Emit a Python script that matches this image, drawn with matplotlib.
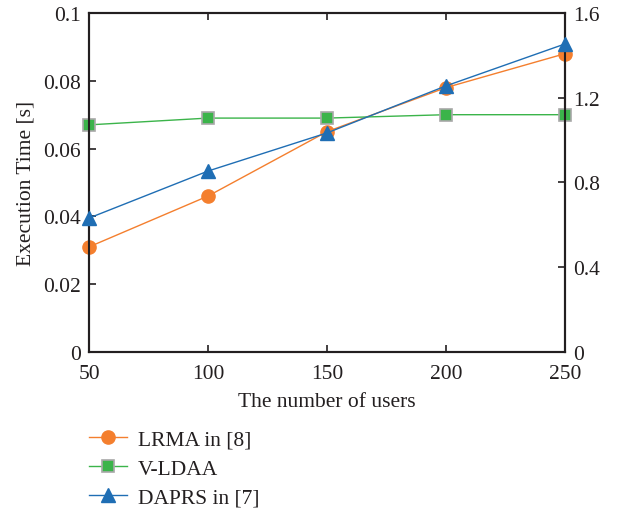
import matplotlib.pyplot as plt

users = [50, 100, 150, 200, 250]
lrma = [0.031, 0.046, 0.065, 0.078, 0.088]
vldaa = [0.067, 0.069, 0.069, 0.070, 0.070]
daprs = [0.632, 0.854, 1.034, 1.256, 1.454]  # right axis

plt.rcParams['font.family'] = 'Liberation Serif'
plt.rcParams['font.size'] = 15.5

fig = plt.figure(figsize=(6.21, 5.10), dpi=100)
ax = fig.add_axes([89 / 621, 1 - 353 / 510, 476 / 621, 339 / 510])
ax2 = ax.twinx()

l1, = ax.plot(users, lrma, color='#F47F2E', lw=1, marker='o', ms=9.5,
              markerfacecolor='#F47F2E', markeredgecolor='#F47F2E', clip_on=False, zorder=3)
l2, = ax.plot(users, vldaa, color='#3BB44A', lw=1, marker='s', ms=8.5,
              markerfacecolor='#3BB44A', markeredgecolor='#A8A8A8', markeredgewidth=1.2,
              clip_on=False, zorder=3)
l3, = ax2.plot(users, daprs, color='#1F6EB4', lw=1, marker='^', ms=10,
               markerfacecolor='#1F6EB4', markeredgecolor='#1F6EB4', clip_on=False, zorder=3)

ax.set_xlim(50, 250)
ax.set_ylim(0, 0.1)
ax2.set_ylim(0, 1.6)
ax.set_xticks(users)
ax.set_yticks([0, 0.02, 0.04, 0.06, 0.08, 0.1])
ax.set_yticklabels(['0', '0.02', '0.04', '0.06', '0.08', '0.1'])
ax2.set_yticks([0, 0.4, 0.8, 1.2, 1.6])
ax2.set_yticklabels(['0', '0.4', '0.8', '1.2', '1.6'])

for a in (ax, ax2):
    for s in a.spines.values():
        s.set_linewidth(1.5)
        s.set_color('#231F20')
ax.tick_params(axis='both', direction='in', length=5, width=1.2, colors='#231F20',
               labelcolor='#231F20', top=True, pad=6)
ax.tick_params(axis='x', pad=9)
ax2.tick_params(axis='y', direction='in', length=5, width=1.2, colors='#231F20',
                labelcolor='#231F20', pad=6)

ax.set_xlabel('The number of users', labelpad=6, color='#231F20')
ax.set_ylabel('Execution Time [s]', labelpad=5, color='#231F20')

fig.legend([l1, l2, l3], ['LRMA in [8]', 'V-LDAA', 'DAPRS in [7]'],
           loc='upper left', bbox_to_anchor=(70 / 621, 1 - 411 / 510),
           frameon=False, handlelength=1.75, handletextpad=0.5,
           labelspacing=0.42, fontsize=15.5, labelcolor='#231F20')

fig.savefig('out.png', dpi=100)
